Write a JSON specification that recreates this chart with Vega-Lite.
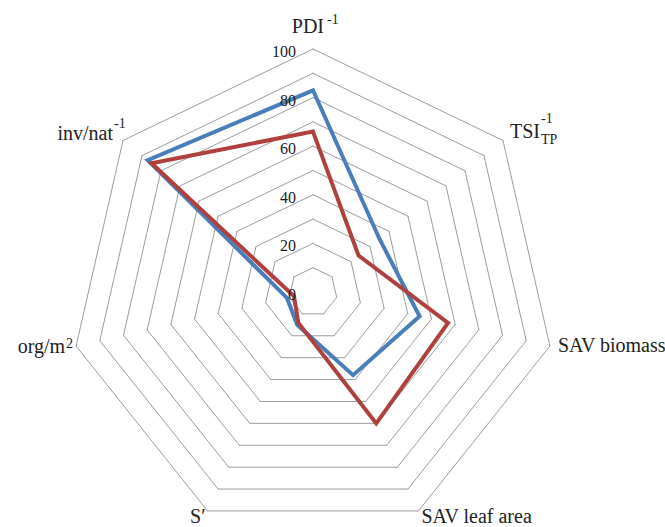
{
  "$schema": "https://vega.github.io/schema/vega-lite/v6.json",
  "width": 665,
  "height": 527,
  "padding": 0,
  "autosize": {"type": "none"},
  "background": "white",
  "config": {
    "view": {"stroke": null},
    "text": {"font": "Liberation Serif", "color": "#222222", "baseline": "alphabetic"}
  },
  "datasets": {
    "series": [
      {"series": "Series 1", "axis": "PDI", "value": 83},
      {"series": "Series 1", "axis": "TSI", "value": 35},
      {"series": "Series 1", "axis": "SAV biomass", "value": 45},
      {"series": "Series 1", "axis": "SAV leaf area", "value": 38},
      {"series": "Series 1", "axis": "S′", "value": 15},
      {"series": "Series 1", "axis": "org/m2", "value": 11},
      {"series": "Series 1", "axis": "inv/nat", "value": 87},
      {"series": "Series 2", "axis": "PDI", "value": 66},
      {"series": "Series 2", "axis": "TSI", "value": 24},
      {"series": "Series 2", "axis": "SAV biomass", "value": 57},
      {"series": "Series 2", "axis": "SAV leaf area", "value": 60},
      {"series": "Series 2", "axis": "S′", "value": 14},
      {"series": "Series 2", "axis": "org/m2", "value": 8},
      {"series": "Series 2", "axis": "inv/nat", "value": 85}
    ],
    "grid": [
      {"r": 10, "k": [0, 1, 2, 3, 4, 5, 6]},
      {"r": 20, "k": [0, 1, 2, 3, 4, 5, 6]},
      {"r": 30, "k": [0, 1, 2, 3, 4, 5, 6]},
      {"r": 40, "k": [0, 1, 2, 3, 4, 5, 6]},
      {"r": 50, "k": [0, 1, 2, 3, 4, 5, 6]},
      {"r": 60, "k": [0, 1, 2, 3, 4, 5, 6]},
      {"r": 70, "k": [0, 1, 2, 3, 4, 5, 6]},
      {"r": 80, "k": [0, 1, 2, 3, 4, 5, 6]},
      {"r": 90, "k": [0, 1, 2, 3, 4, 5, 6]},
      {"r": 100, "k": [0, 1, 2, 3, 4, 5, 6]}
    ],
    "ticks": [{"t": 0}, {"t": 20}, {"t": 40}, {"t": 60}, {"t": 80}, {"t": 100}],
    "axes": [
      {"axis": "PDI", "label": "PDI", "sup": "-1"},
      {"axis": "TSI", "label": "TSI", "sup": "-1", "sub": "TP"},
      {"axis": "SAV biomass", "label": "SAV biomass"},
      {"axis": "SAV leaf area", "label": "SAV leaf area"},
      {"axis": "S′", "label": "S′"},
      {"axis": "org/m2", "label": "org/m", "sup": "2"},
      {"axis": "inv/nat", "label": "inv/nat", "sup": "-1"}
    ]
  },
  "encoding": {
    "x": {"field": "x", "type": "quantitative", "scale": {"domain": [-128.81, 144.86], "nice": false, "zero": false}, "axis": null},
    "y": {"field": "y", "type": "quantitative", "scale": {"domain": [-96.71, 120.16], "nice": false, "zero": false}, "axis": null}
  },
  "layer": [
    {
      "data": {"name": "grid"},
      "transform": [
        {"flatten": ["k"]},
        {"calculate": "PI/2 - datum.k*2*PI/7", "as": "a"},
        {"calculate": "PI/2 - (datum.k+1)*2*PI/7", "as": "b"},
        {"calculate": "datum.r*cos(datum.a)", "as": "x"},
        {"calculate": "datum.r*sin(datum.a)", "as": "y"},
        {"calculate": "datum.r*cos(datum.b)", "as": "x2"},
        {"calculate": "datum.r*sin(datum.b)", "as": "y2"}
      ],
      "mark": {"type": "rule", "color": "#9c9c9c", "strokeWidth": 1, "strokeCap": "round"},
      "encoding": {"x2": {"field": "x2"}, "y2": {"field": "y2"}}
    },
    {
      "data": {"name": "series"},
      "transform": [
        {"calculate": "indexof(['PDI','TSI','SAV biomass','SAV leaf area','S′','org/m2','inv/nat'], datum.axis)", "as": "k"},
        {"calculate": "PI/2 - datum.k*2*PI/7", "as": "a"},
        {"calculate": "datum.value*cos(datum.a)", "as": "x"},
        {"calculate": "datum.value*sin(datum.a)", "as": "y"}
      ],
      "mark": {"type": "line", "interpolate": "linear-closed", "strokeWidth": 4, "strokeJoin": "miter"},
      "encoding": {
        "color": {"field": "series", "type": "nominal", "scale": {"domain": ["Series 1", "Series 2"], "range": ["#4a7ebb", "#b0403d"]}, "legend": null},
        "order": {"field": "k", "type": "quantitative"}
      }
    },
    {
      "data": {"name": "ticks"},
      "transform": [
        {"calculate": "0", "as": "x"},
        {"calculate": "datum.t", "as": "y"}
      ],
      "mark": {"type": "text", "align": "right", "dx": -17, "dy": 8, "fontSize": 16},
      "encoding": {"text": {"field": "t", "type": "quantitative", "format": "d"}}
    },
    {
      "data": {"name": "axes"},
      "transform": [
        {"calculate": "indexof(['PDI','TSI','SAV biomass','SAV leaf area','S′','org/m2','inv/nat'], datum.axis)", "as": "k"},
        {"calculate": "PI/2 - datum.k*2*PI/7", "as": "a"},
        {"calculate": "100*cos(datum.a)", "as": "x"},
        {"calculate": "100*sin(datum.a)", "as": "y"}
      ],
      "layer": [
        {"transform": [{"filter": "datum.axis === 'PDI'"}], "mark": {"type": "text", "align": "right", "dx": 11, "dy": -16, "fontSize": 20}, "encoding": {"text": {"field": "label"}}},
        {"transform": [{"filter": "datum.axis === 'PDI'"}], "mark": {"type": "text", "align": "left", "dx": 14, "dy": -25, "fontSize": 14}, "encoding": {"text": {"field": "sup"}}},
        {"transform": [{"filter": "datum.axis === 'TSI'"}], "mark": {"type": "text", "align": "left", "dx": 7, "dy": -2, "fontSize": 20}, "encoding": {"text": {"field": "label"}}},
        {"transform": [{"filter": "datum.axis === 'TSI'"}], "mark": {"type": "text", "align": "left", "dx": 38, "dy": -17, "fontSize": 14}, "encoding": {"text": {"field": "sup"}}},
        {"transform": [{"filter": "datum.axis === 'TSI'"}], "mark": {"type": "text", "align": "left", "dx": 38, "dy": 4, "fontSize": 14}, "encoding": {"text": {"field": "sub"}}},
        {"transform": [{"filter": "datum.axis === 'SAV biomass'"}], "mark": {"type": "text", "align": "left", "dx": 8, "dy": 6, "fontSize": 20}, "encoding": {"text": {"field": "label"}}},
        {"transform": [{"filter": "datum.axis === 'SAV leaf area'"}], "mark": {"type": "text", "align": "left", "dx": 3, "dy": 12, "fontSize": 20}, "encoding": {"text": {"field": "label"}}},
        {"transform": [{"filter": "datum.axis === 'S′'"}], "mark": {"type": "text", "align": "right", "dx": -2, "dy": 12, "fontSize": 20}, "encoding": {"text": {"field": "label"}}},
        {"transform": [{"filter": "datum.axis === 'org/m2'"}], "mark": {"type": "text", "align": "right", "dx": -11, "dy": 7, "fontSize": 20}, "encoding": {"text": {"field": "label"}}},
        {"transform": [{"filter": "datum.axis === 'org/m2'"}], "mark": {"type": "text", "align": "left", "dx": -10, "dy": 2, "fontSize": 14}, "encoding": {"text": {"field": "sup"}}},
        {"transform": [{"filter": "datum.axis === 'inv/nat'"}], "mark": {"type": "text", "align": "right", "dx": -10, "dy": 0, "fontSize": 20}, "encoding": {"text": {"field": "label"}}},
        {"transform": [{"filter": "datum.axis === 'inv/nat'"}], "mark": {"type": "text", "align": "left", "dx": -9, "dy": -12, "fontSize": 14}, "encoding": {"text": {"field": "sup"}}}
      ]
    }
  ]
}
